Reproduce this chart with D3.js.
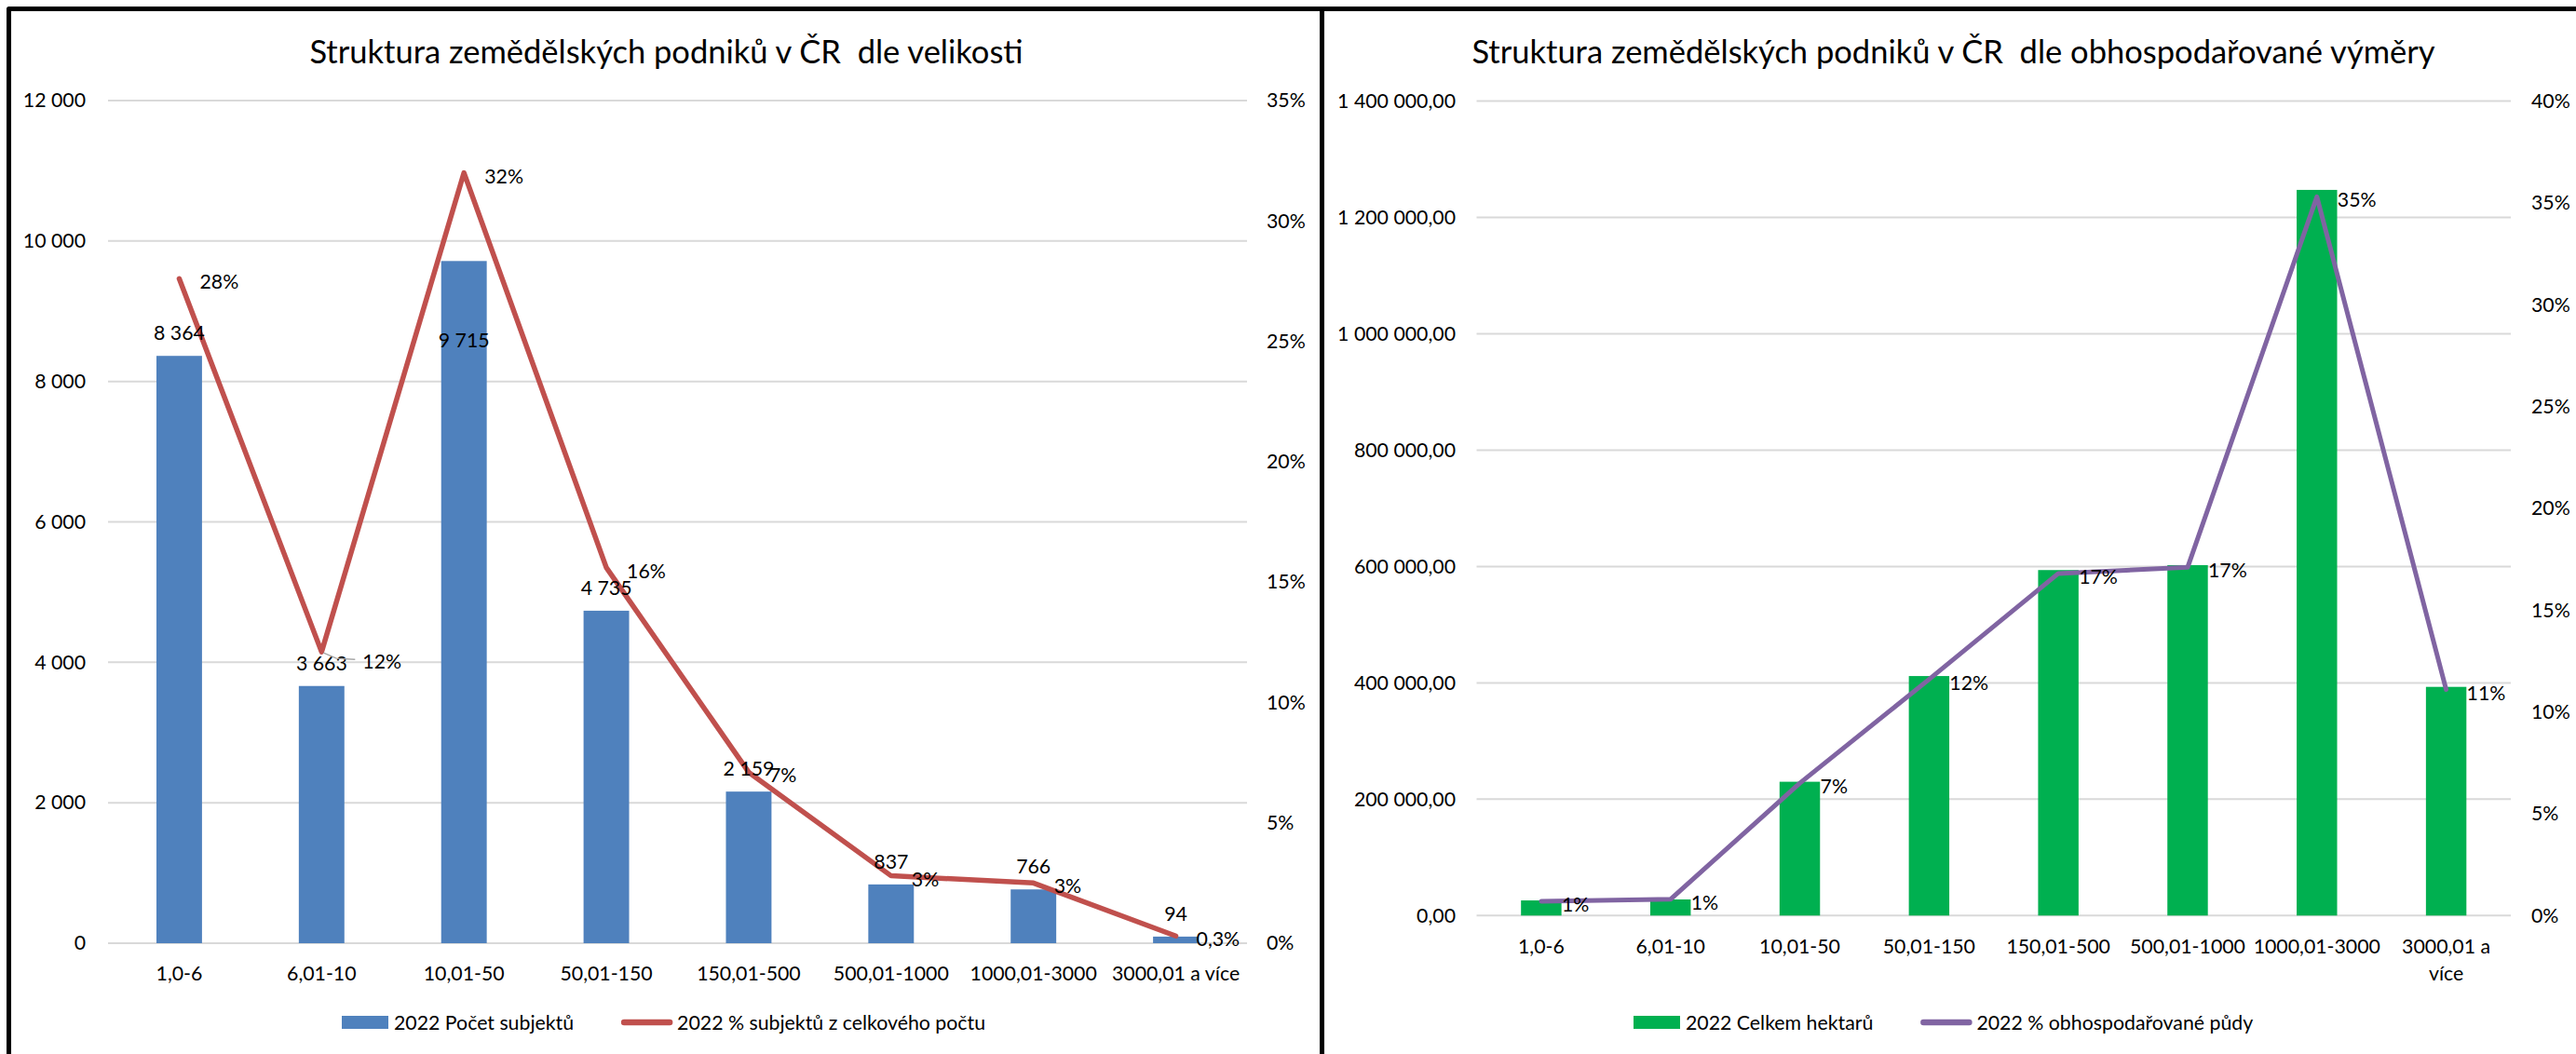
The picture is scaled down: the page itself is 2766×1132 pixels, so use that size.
<!DOCTYPE html>
<html><head><meta charset="utf-8">
<script src="https://cdn.jsdelivr.net/npm/d3@7"></script>
<style>
html,body{margin:0;padding:0;background:#fff;overflow:hidden;}
svg text{font-family:Lato,"Open Sans",sans-serif;fill:#000;}
.title{white-space:pre;}
</style></head><body>
<svg id="c" width="2766" height="1132"></svg>
<script>
// ---- data ----
const categories = ["1,0-6","6,01-10","10,01-50","50,01-150","150,01-500","500,01-1000","1000,01-3000","3000,01 a více"];
const subjectCounts = [8364,3663,9715,4735,2159,837,766,94];
const subjectShare = [27.6,12.1,32.0,15.6,7.1,2.8,2.5,0.3];
const hectares = [26000,27700,230000,411700,593900,602400,1247400,393100];
const landShare = [0.7,0.8,6.5,11.6,16.8,17.1,35.3,11.1];
const countTicks = [0,2000,4000,6000,8000,10000,12000];
const countPctTicks = [0,5,10,15,20,25,30,35];
const hectareTicks = [0,200000,400000,600000,800000,1000000,1200000,1400000];
const hectarePctTicks = [0,5,10,15,20,25,30,35,40];
const titleLeft = "Struktura zemědělských podniků v ČR  dle velikosti";
const titleRight = "Struktura zemědělských podniků v ČR  dle obhospodařované výměry";
const legendLeft = ["2022 Počet subjektů","2022 % subjektů z celkového počtu"];
const legendRight = ["2022 Celkem hektarů","2022 % obhospodařované půdy"];

// ---- formatting ----
const cz = d3.formatLocale({decimal:",", thousands:"\u00a0", grouping:[3], currency:["","\u00a0Kč"]});
const fInt = cz.format(",d");
const fDec2 = cz.format(",.2f");
const fPct0 = v => cz.format(".0f")(v) + "%";
const fPctSmall = v => (v < 1 ? cz.format(".1f")(v) : cz.format(".0f")(v)) + "%";

const svg = d3.select("#c");
svg.append("rect").attr("width",2766).attr("height",1132).attr("fill","#fff");

// frame
svg.append("path").attr("d","M9.5,1132 V9.5 H2766").attr("fill","none")
  .attr("stroke","#000").attr("stroke-width",5).attr("stroke-linejoin","round");
svg.append("line").attr("x1",1419.5).attr("x2",1419.5).attr("y1",9.5).attr("y2",1132)
  .attr("stroke","#000").attr("stroke-width",5);

const FS = 21.3;

function wrap(sel, width) {
  sel.each(function() {
    const t = d3.select(this);
    const words = t.text().split(/\s+/);
    const dy = t.attr("dy");
    t.text(null);
    let line = [], tsp = t.append("tspan").attr("x",0).attr("dy",dy);
    for (const w of words) {
      line.push(w);
      tsp.text(line.join(" "));
      if (tsp.node().getComputedTextLength() > width && line.length > 1) {
        line.pop(); tsp.text(line.join(" "));
        line = [w];
        tsp = t.append("tspan").attr("x",0).attr("dy","1.35em").text(w);
      }
    }
  });
}

function panel(o) {
  const g = svg.append("g");
  const x = d3.scaleBand().domain(categories).range([o.x0,o.x1]).paddingInner(o.pad).paddingOuter(o.pad/2);
  const bw = x.bandwidth();
  const cx = c => x(c) + bw/2;
  const y = d3.scaleLinear().domain([0,o.yMax]).range([o.y0,o.y1]);
  const y2 = d3.scaleLinear().domain([0,o.pMax]).range([o.y0,o.y1]);

  // title
  g.append("text").attr("class","title").attr("x",o.titleX).attr("y",54).attr("dominant-baseline","central")
    .attr("text-anchor","middle").attr("font-size",34.5).text(o.title);

  // gridlines
  g.append("g").selectAll("line").data(o.ticks).join("line")
    .attr("x1",o.x0).attr("x2",o.x1).attr("y1",d=>y(d)).attr("y2",d=>y(d))
    .attr("stroke","#D9D9D9").attr("stroke-width",2);

  // axes
  const ax = g.append("g").attr("transform",`translate(${o.x0},0)`)
    .call(d3.axisLeft(y).tickValues(o.ticks).tickFormat(o.fmt).tickSize(0).tickPadding(o.leftPad));
  const ax2 = g.append("g").attr("transform",`translate(${o.x1},0)`)
    .call(d3.axisRight(y2).tickValues(o.pTicks).tickFormat(fPct0).tickSize(0).tickPadding(o.rightPad));
  const ax3 = g.append("g").attr("transform",`translate(0,${o.y0})`)
    .call(d3.axisBottom(x).tickSize(0).tickPadding(o.bottomPad));
  [ax,ax2,ax3].forEach(a => {
    a.select(".domain").remove();
    a.attr("font-family",null).attr("font-size",FS);
    a.selectAll("text").attr("fill","#000");
  });
  if (o.wrap) ax3.selectAll(".tick text").call(wrap, x.step()*0.88);

  // bars
  g.append("g").selectAll("rect").data(categories).join("rect")
    .attr("x",d=>x(d)).attr("width",bw)
    .attr("y",(d,i)=>y(o.bars[i])).attr("height",(d,i)=>o.y0 - y(o.bars[i]))
    .attr("fill",o.barColor);

  // line
  const line = d3.line().x(d=>cx(d.c)).y(d=>y2(d.v));
  const pts = categories.map((c,i)=>({c, v:o.pct[i]}));
  g.append("path").datum(pts).attr("d",line).attr("fill","none")
    .attr("stroke",o.lineColor).attr("stroke-width",o.lineW)
    .attr("stroke-linejoin","round").attr("stroke-linecap","round");

  // bar labels
  if (o.barLabels) {
    g.append("g").selectAll("text").data(categories).join("text")
      .attr("x",d=>cx(d))
      .attr("y",(d,i)=> y(o.bars[i]) + (o.barNudge[d] !== undefined ? o.barNudge[d] : -25))
      .attr("text-anchor","middle").attr("dominant-baseline","central").attr("font-size",FS)
      .text((d,i)=>fInt(o.bars[i]));
  }
  // leader lines
  (o.leaders||[]).forEach(c => {
    const i = categories.indexOf(c);
    const px = cx(c), py = y2(o.pct[i]);
    g.append("path").attr("d",`M${px+2},${py+1} L${px+16},${py+7} L${px+36},${py+8}`)
      .attr("fill","none").attr("stroke","#A6A6A6").attr("stroke-width",1.5);
  });
  // pct labels
  g.append("g").selectAll("text").data(categories).join("text")
    .attr("x",d=>cx(d) + 22 + ((o.pctNudgeX||{})[d]||0))
    .attr("y",(d,i)=> y2(o.pct[i]) + 3 + ((o.pctNudge||{})[d]||0))
    .attr("dominant-baseline","central").attr("font-size",FS)
    .text((d,i)=>o.pctFmt(o.pct[i]));

  // legend
  const lg = g.append("g").attr("transform",`translate(${o.legX},${o.legY})`);
  lg.append("rect").attr("x",0).attr("y",-7).attr("width",50).attr("height",14).attr("fill",o.barColor);
  const t1 = lg.append("text").attr("x",56).attr("y",0).attr("dominant-baseline","central")
    .attr("font-size",FS).text(o.legend[0]);
  const x2 = 56 + t1.node().getComputedTextLength() + 51;
  lg.append("line").attr("x1",x2+3).attr("x2",x2+52).attr("y1",0).attr("y2",0)
    .attr("stroke",o.lineColor).attr("stroke-width",6.5).attr("stroke-linecap","round");
  lg.append("text").attr("x",x2+60).attr("y",0).attr("dominant-baseline","central")
    .attr("font-size",FS).text(o.legend[1]);
}

panel({
  x0:116, x1:1339, y0:1013, y1:108, pad:0.68,
  yMax:12000, pMax:35, ticks:countTicks, pTicks:countPctTicks, fmt:fInt,
  leftPad:24, rightPad:21, bottomPad:24.6,
  title:titleLeft, titleX:715.5,
  bars:subjectCounts, pct:subjectShare, barColor:"#4F81BD", lineColor:"#C0504D", lineW:5.5,
  barLabels:true, barNudge:{"10,01-50":85},
  pctNudge:{"6,01-10":7}, pctNudgeX:{"6,01-10":22}, leaders:["6,01-10"],
  pctFmt:fPctSmall,
  legend:legendLeft, legX:367, legY:1098, wrap:false
});
panel({
  x0:1585.5, x1:2696, y0:983.3, y1:108.6, pad:0.687,
  yMax:1400000, pMax:40, ticks:hectareTicks, pTicks:hectarePctTicks, fmt:fDec2,
  leftPad:22.5, rightPad:22, bottomPad:26,
  title:titleRight, titleX:2097.5,
  bars:hectares, pct:landShare, barColor:"#00B050", lineColor:"#8064A2", lineW:5,
  barLabels:false, pctFmt:fPct0,
  legend:legendRight, legX:1754, legY:1098, wrap:true
});
</script>
</body></html>
